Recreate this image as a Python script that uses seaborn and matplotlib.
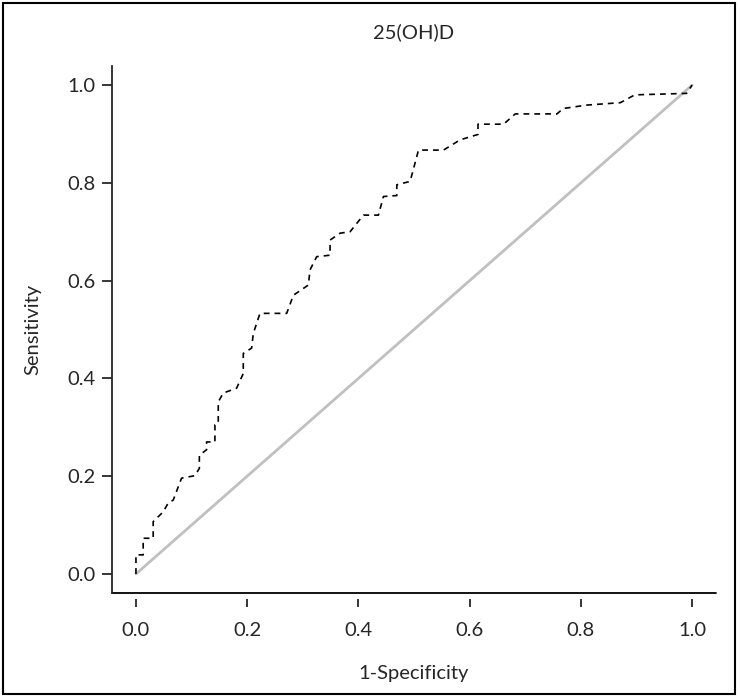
import matplotlib
matplotlib.use("Agg")
import matplotlib.pyplot as plt
import seaborn as sns
from matplotlib.patches import Rectangle

# ROC path (1-specificity, sensitivity)
fpr = [0.0, 0.0, 0.013, 0.013, 0.031, 0.031, 0.049, 0.058, 0.067, 0.082, 0.106,
       0.114, 0.114, 0.127, 0.127, 0.142, 0.142, 0.148, 0.148, 0.157, 0.181,
       0.193, 0.193, 0.208, 0.211, 0.223, 0.271, 0.283, 0.310, 0.313, 0.325,
       0.349, 0.349, 0.367, 0.385, 0.409, 0.436, 0.445, 0.469, 0.469, 0.493,
       0.508, 0.553, 0.583, 0.615, 0.615, 0.661, 0.682, 0.757, 0.768, 0.810,
       0.871, 0.897, 0.990, 1.0]
tpr = [0.0, 0.039, 0.039, 0.073, 0.073, 0.107, 0.127, 0.145, 0.151, 0.196, 0.201,
       0.216, 0.243, 0.254, 0.270, 0.270, 0.305, 0.308, 0.352, 0.370, 0.380,
       0.410, 0.451, 0.462, 0.492, 0.533, 0.533, 0.570, 0.591, 0.622, 0.649,
       0.652, 0.683, 0.697, 0.700, 0.734, 0.734, 0.772, 0.774, 0.796, 0.803,
       0.867, 0.867, 0.888, 0.899, 0.920, 0.920, 0.941, 0.941, 0.952, 0.959,
       0.964, 0.980, 0.983, 1.0]
ref_x = [0.0, 1.0]
ref_y = [0.0, 1.0]
ticks = [0.0, 0.2, 0.4, 0.6, 0.8, 1.0]
tick_labels = ["0.0", "0.2", "0.4", "0.6", "0.8", "1.0"]

sns.set_style("ticks")
plt.rcParams["font.family"] = ["Lato", "DejaVu Sans"]

fig = plt.figure(figsize=(7.4, 6.97), dpi=100)
ax = fig.add_axes([0.1514, 0.1492, 0.8162, 0.7561])

sns.lineplot(x=ref_x, y=ref_y, ax=ax, color="#c0c0c0", lw=2.0, sort=False, estimator=None)
sns.lineplot(x=fpr, y=tpr, ax=ax, color="black", lw=1.2, sort=False, estimator=None,
             dashes=False)
ax.lines[-1].set_dashes((3.5, 3))

ax.set_xlim(-0.043, 1.043)
ax.set_ylim(-0.039, 1.039)
ax.set_xticks(ticks, tick_labels)
ax.set_yticks(ticks, tick_labels)

for s in ["top", "right", "bottom"]:
    ax.spines[s].set_visible(False)
ax.spines["left"].set_linewidth(1.3)
ax.spines["bottom"].set_position(("outward", 4))
# bottom axis line, drawn at the axes edge (ticks hang below it)
ax.plot([0, 1], [0, 0], transform=ax.transAxes, color="black", lw=1.3, clip_on=False)

fs = 14.5
ax.tick_params(axis="y", length=7, width=1.3, pad=5, labelsize=fs)
ax.tick_params(axis="x", length=6, width=1.3, pad=11, labelsize=fs)

ax.set_xlabel("1-Specificity", fontsize=fs)
ax.set_ylabel("Sensitivity", fontsize=fs)
ax.xaxis.set_label_coords(0.5, -0.152)
ax.yaxis.set_label_coords(-0.131, 0.5)
ax.xaxis.label.set_va("center")
ax.yaxis.label.set_va("center")
ax.set_title("25(OH)D", fontsize=fs, y=1.0645, va="center", pad=0)

fig.patches.append(Rectangle((0.0034, 0.005), 0.99, 0.9914, transform=fig.transFigure,
                             fill=False, edgecolor="black", lw=1.5))

fig.savefig("out.png", dpi=100)
